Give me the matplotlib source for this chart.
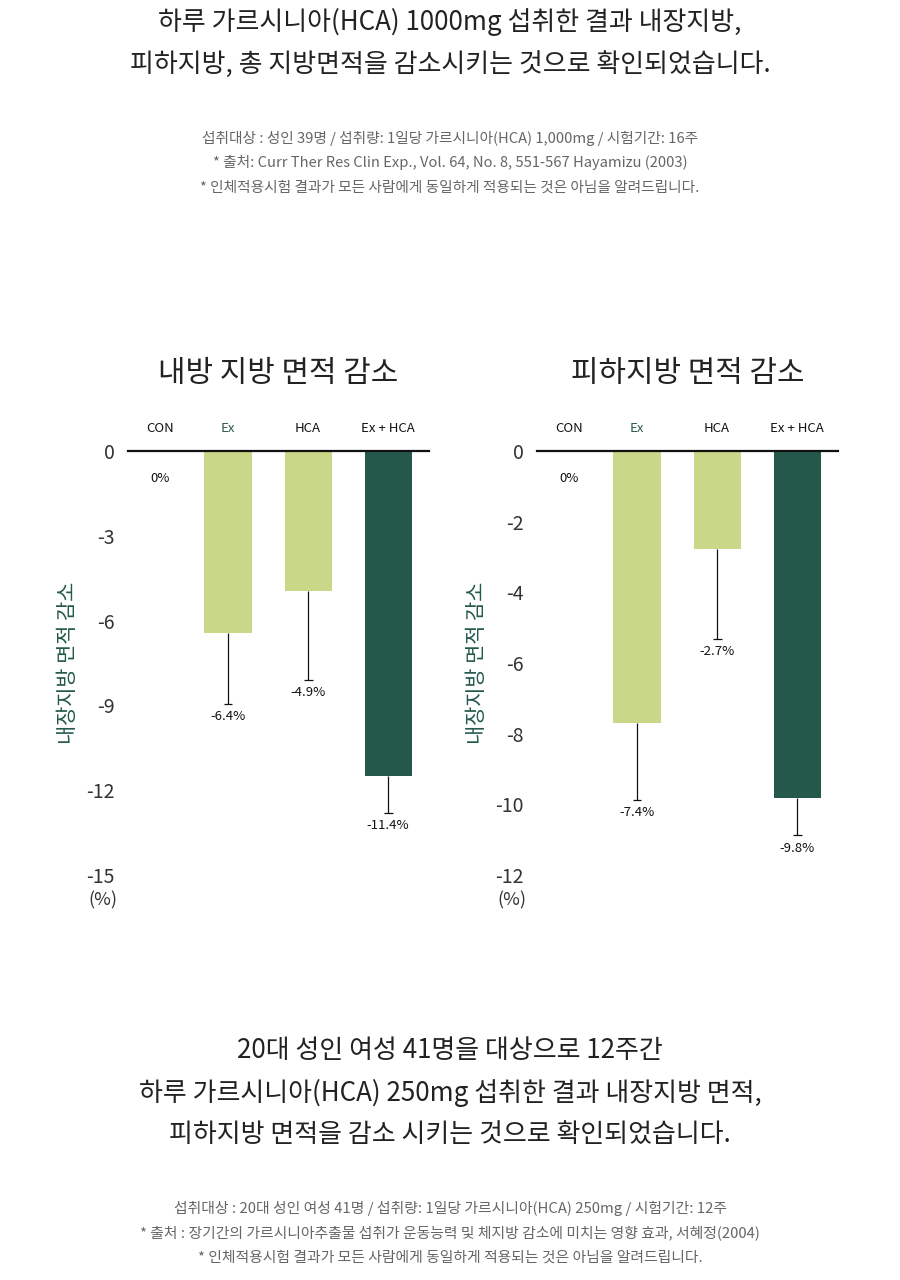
import matplotlib
matplotlib.use("Agg")
import matplotlib.pyplot as plt
import numpy as np

plt.rcParams['font.family'] = ['Noto Sans CJK KR', 'DejaVu Sans']

categories = ["CON", "Ex", "HCA", "Ex + HCA"]

# 내장지방 (visceral fat) chart
visceral_values = [0, -6.45, -4.95, -11.5]
visceral_err = [0, 2.5, 3.15, 1.3]
visceral_labels = ["0%", "-6.4%", "-4.9%", "-11.4%"]
visceral_ticks = [0, -3, -6, -9, -12, -15]

# 피하지방 (subcutaneous fat) chart
subcut_values = [0, -7.7, -2.77, -9.83]
subcut_err = [0, 2.17, 2.54, 1.05]
subcut_labels = ["0%", "-7.4%", "-2.7%", "-9.8%"]
subcut_ticks = [0, -2, -4, -6, -8, -10, -12]

bar_colors = ["#c9d888", "#c9d888", "#c9d888", "#23584b"]
cat_colors = ["#111111", "#2c5a4c", "#111111", "#111111"]
dark_green = "#23584b"

W, H = 900, 1280
fig = plt.figure(figsize=(9, 12.8), dpi=100)


def fy(px):
    return 1 - px / H


def draw_chart(ax, values, errs, labels, ticks, title):
    x = np.arange(len(categories))
    ax.bar(x, values, width=0.59, color=bar_colors, zorder=2)
    for i in range(len(x)):
        end = values[i] - errs[i]
        if errs[i] > 0:
            # error bar only goes downward, cap at the far end
            ax.vlines(x[i], end, values[i], color="#111111", lw=0.9, zorder=3)
            ax.hlines(end, x[i] - 0.055, x[i] + 0.055, color="#111111",
                      lw=0.9, zorder=3)
        off = -27 if values[i] == 0 else -13
        dx = 12 if i == 0 else 0
        ax.annotate(labels[i], (x[i], end), xytext=(dx, off),
                    textcoords="offset pixels", ha="center", va="center",
                    fontsize=9.5, color="#111111", annotation_clip=False)
        ax.annotate(categories[i], (x[i], 0), xytext=(dx, 23),
                    textcoords="offset pixels", ha="center", va="center",
                    fontsize=9.5, color=cat_colors[i], annotation_clip=False)
    ax.set_xlim(-0.25, 3.51)
    ax.set_ylim(ticks[-1], 0)
    ax.set_yticks(ticks)
    ax.set_yticklabels([str(t) for t in ticks])
    ax.tick_params(axis="y", length=0, pad=9.5, labelsize=14,
                   labelcolor="#333333")
    ax.set_xticks([])
    for s in ["left", "right", "bottom"]:
        ax.spines[s].set_visible(False)
    ax.spines["top"].set_linewidth(1.6)
    ax.spines["top"].set_color("#111111")
    ax.annotate("(%)", (0, ticks[-1]), xycoords=("axes fraction", "data"),
                xytext=(-25, -25), textcoords="offset pixels",
                ha="center", va="center", fontsize=13, color="#333333",
                annotation_clip=False)
    ax.set_ylabel("내장지방 면적 감소", fontsize=15, color=dark_green,
                  labelpad=5)
    ax.set_title(title, fontsize=21.5, color="#222222", pad=50)


ax1 = fig.add_axes([128 / W, fy(875), 301 / W, 424 / H])
ax2 = fig.add_axes([537 / W, fy(875), 301 / W, 424 / H])
draw_chart(ax1, visceral_values, visceral_err, visceral_labels,
           visceral_ticks, "내방 지방 면적 감소")
draw_chart(ax2, subcut_values, subcut_err, subcut_labels,
           subcut_ticks, "피하지방 면적 감소")

head_color = "#222222"
sub_color = "#666666"

top_lines = ["하루 가르시니아(HCA) 1000mg 섭취한 결과 내장지방,",
             "피하지방, 총 지방면적을 감소시키는 것으로 확인되었습니다."]
top_notes = ["섭취대상 : 성인 39명 / 섭취량: 1일당 가르시니아(HCA) 1,000mg / 시험기간: 16주",
             "* 출처: Curr Ther Res Clin Exp., Vol. 64, No. 8, 551-567 Hayamizu (2003)",
             "* 인체적용시험 결과가 모든 사람에게 동일하게 적용되는 것은 아님을 알려드립니다."]
bottom_lines = ["20대 성인 여성 41명을 대상으로 12주간",
                "하루 가르시니아(HCA) 250mg 섭취한 결과 내장지방 면적,",
                "피하지방 면적을 감소 시키는 것으로 확인되었습니다."]
bottom_notes = ["섭취대상 : 20대 성인 여성 41명 / 섭취량: 1일당 가르시니아(HCA) 250mg / 시험기간: 12주",
                "* 출처 : 장기간의 가르시니아추출물 섭취가 운동능력 및 체지방 감소에 미치는 영향 효과, 서혜정(2004)",
                "* 인체적용시험 결과가 모든 사람에게 동일하게 적용되는 것은 아님을 알려드립니다."]

for txt, y in zip(top_lines, [22, 64]):
    fig.text(0.5, fy(y), txt, ha="center", va="center", fontsize=18.7,
             color=head_color)
for txt, y in zip(top_notes, [138, 163, 188]):
    fig.text(0.5, fy(y), txt, ha="center", va="center", fontsize=10.6,
             color=sub_color)
for txt, y in zip(bottom_lines, [1050, 1093, 1135]):
    fig.text(0.5, fy(y), txt, ha="center", va="center", fontsize=18.7,
             color=head_color)
for txt, y in zip(bottom_notes, [1208, 1233, 1258]):
    fig.text(0.5, fy(y), txt, ha="center", va="center", fontsize=10.7,
             color=sub_color)

fig.savefig("out.png", dpi=100, facecolor="white")
